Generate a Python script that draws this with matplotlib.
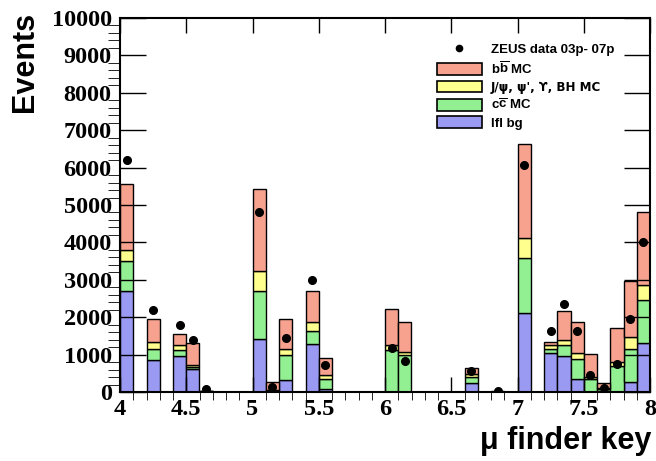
import numpy as np
import matplotlib
matplotlib.use("Agg")
import matplotlib.pyplot as plt
from matplotlib.ticker import MultipleLocator
from matplotlib.patches import Patch
from matplotlib.lines import Line2D

plt.rcParams["mathtext.fontset"] = "custom"
plt.rcParams["mathtext.rm"] = "Liberation Sans:bold"
plt.rcParams["mathtext.bf"] = "Liberation Sans:bold"
plt.rcParams["mathtext.it"] = "Liberation Sans:bold"

nan = np.nan

# bin lower edges 4.0 ... 7.9, width 0.1
bin_edges = np.round(np.arange(4.0, 8.0, 0.1), 1)
bin_width = 0.1

#             4.0   4.1  4.2  4.3  4.4  4.5  4.6 4.7 4.8 4.9  5.0  5.1  5.2 5.3  5.4  5.5 5.6 5.7 5.8 5.9
lfl_bg = [2700, 0, 850, 0, 950, 620, 10, 0, 0, 0, 1410, 30, 330, 0, 1280, 90, 0, 0, 0, 0,
          #  6.0 6.1 6.2 6.3 6.4 6.5 6.6 6.7 6.8 6.9 7.0  7.1 7.2   7.3  7.4  7.5 7.6 7.7  7.8  7.9
          0, 0, 0, 0, 0, 0, 250, 0, 5, 0, 2100, 0, 1030, 970, 360, 0, 10, 0, 270, 1300]
cc_mc = [800, 0, 310, 0, 160, 50, 5, 0, 0, 0, 1290, 20, 650, 0, 350, 270, 0, 0, 0, 0,
         1130, 980, 0, 0, 0, 0, 160, 0, 5, 0, 1470, 0, 130, 300, 530, 360, 60, 700, 880, 1160]
onium_mc = [300, 0, 180, 0, 140, 40, 5, 0, 0, 0, 540, 10, 180, 0, 250, 90, 0, 0, 0, 0,
            120, 90, 0, 0, 0, 0, 60, 0, 2, 0, 540, 0, 90, 130, 150, 30, 30, 110, 320, 400]
bb_mc = [1750, 0, 620, 0, 310, 590, 10, 0, 0, 0, 2200, 200, 800, 0, 830, 470, 0, 0, 0, 0,
         980, 800, 0, 0, 0, 0, 180, 0, 5, 0, 2520, 0, 90, 770, 830, 620, 140, 890, 1510, 1960]
zeus_data = [6200, nan, 2190, nan, 1780, 1400, 70, nan, nan, nan, 4800, 140, 1440, nan, 3000, 710,
             nan, nan, nan, nan, 1180, 830, nan, nan, nan, nan, 560, nan, 30, nan, 6070, nan,
             1630, 2340, 1630, 450, 110, 760, 1950, 4020]

labels = ["b$\\overline{\\mathrm{b}}$ MC", "J/ψ, ψ', ϒ, BH MC", "c$\\overline{\\mathrm{c}}$ MC", "lfl bg"]
data_label = "ZEUS data 03p- 07p"

c_blue = "#9a9af2"
c_green = "#92ef92"
c_yellow = "#ffff8e"
c_red = "#f6a28e"

fig = plt.figure(figsize=(6.56, 4.61), dpi=100)
ax = fig.add_axes([120 / 656, 69 / 461, 530 / 656, 374 / 461])

stack = [(lfl_bg, c_blue), (cc_mc, c_green), (onium_mc, c_yellow), (bb_mc, c_red)]
bottom = np.zeros(len(bin_edges))
for vals, col in stack:
    vals = np.array(vals, dtype=float)
    ax.bar(bin_edges, vals, width=bin_width, bottom=bottom, align="edge",
           color=col, edgecolor="black", linewidth=1.0)
    bottom += vals

ax.plot(bin_edges + bin_width / 2, zeus_data, "o", color="black", ms=5.5, zorder=5)

ax.set_xlim(4, 8)
ax.set_ylim(0, 10000)
ax.xaxis.set_major_locator(MultipleLocator(0.5))
ax.xaxis.set_minor_locator(MultipleLocator(0.1))
ax.yaxis.set_major_locator(MultipleLocator(1000))
ax.yaxis.set_minor_locator(MultipleLocator(200))
ax.tick_params(direction="in", top=True, right=True, width=1.0)
ax.tick_params(axis="x", which="major", length=11, pad=5)
ax.tick_params(axis="x", which="minor", length=6)
ax.tick_params(axis="y", which="major", length=19, pad=6)
ax.tick_params(axis="y", which="minor", length=9)
for sp in ax.spines.values():
    sp.set_linewidth(1.5)

xt = np.arange(4, 8.01, 0.5)
ax.set_xticks(xt)
ax.set_xticklabels(["4", "4.5", "5", "5.5", "6", "6.5", "7", "7.5", "8"])
for lab in ax.get_xticklabels() + ax.get_yticklabels():
    lab.set_fontfamily("Liberation Serif")
    lab.set_fontweight("bold")
    lab.set_fontsize(17.5)

fig.text(25 / 656, 1 - 12 / 461, "Events", rotation=90, ha="center", va="top",
         fontsize=22, fontweight="bold", family="Liberation Sans")
fig.text(651 / 656, 1 - 449 / 461, "μ finder key", ha="right", va="baseline",
         fontsize=22, fontweight="bold", family="Liberation Sans")

handles = [Line2D([], [], marker="o", ls="none", color="black", ms=4.5)]
for col in [c_red, c_yellow, c_green, c_blue]:
    handles.append(Patch(facecolor=col, edgecolor="black", linewidth=1.2))
leg = ax.legend(handles, [data_label] + labels, loc="upper left",
                bbox_to_anchor=(437 / 656, 1 - 43 / 461), bbox_transform=fig.transFigure,
                frameon=False, borderpad=0, borderaxespad=0, handlelength=3.4,
                handleheight=1.0, handletextpad=0.7, labelspacing=0.3,
                prop={"family": ["Liberation Sans"], "weight": "bold", "size": 9.5})
# the upsilon glyph looks like a plain Y in Liberation, use DejaVu for that label
leg.get_texts()[2].set_fontfamily("DejaVu Sans")
leg.get_texts()[2].set_fontsize(8.6)

fig.savefig("out.png", dpi=100)
